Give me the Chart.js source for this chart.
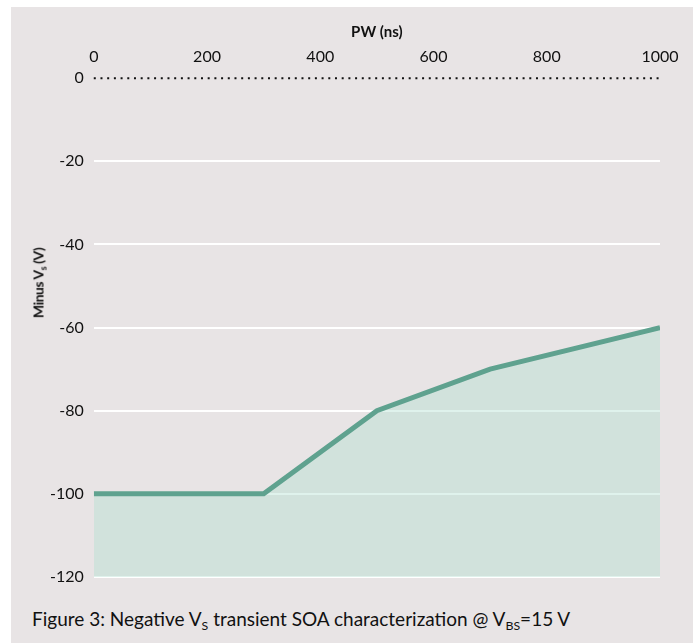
<!DOCTYPE html>
<html lang="en">
<head>
<meta charset="UTF-8">
<title>Negative VS transient SOA</title>
<script src="https://cdn.jsdelivr.net/npm/chart.js"></script>
<style>
    body {
        margin: 0;
        background: #ffffff;
        font-family: Lato, "Noto Sans", sans-serif;
    }
    #panel {
        position: absolute;
        left: 11px;
        top: 7px;
        width: 682px;
        height: 636px;
        background: #e8e4e5;
    }
    #chartBox {
        position: absolute;
        left: 0;
        top: 0;
        width: 682px;
        height: 590px;
    }
    #yTitle {
        position: absolute;
        left: 27px;
        top: 276px;
        transform: translate(-50%, -50%) rotate(-90deg);
        white-space: nowrap;
        font-weight: bold;
        font-size: 14px;
        letter-spacing: -0.5px;
        color: #111;
    }
    #caption {
        position: absolute;
        left: 21px;
        top: 600px;
        font-size: 19px;
        color: #111;
        white-space: nowrap;
    }
    sub { font-size: 0.65em; vertical-align: -0.3em; line-height: 0; }
</style>
</head>
<body>
<div id="panel">
    <div id="chartBox"><canvas id="soaChart"></canvas></div>
    <div id="yTitle">Minus V<sub>s</sub> (V)</div>
    <div id="caption">Figure 3: Negative V<sub>S</sub> transient SOA characterization @ V<sub>BS</sub>=15 V</div>
</div>

<script>
    // data
    const pulseWidth = [0, 300, 500, 700, 1000];      // ns
    const minusVs = [-100, -100, -80, -70, -60];      // V
    const zeroLineX = [0, 1000];
    const zeroLineY = [0, 0];
    const xTicks = [0, 200, 400, 600, 800, 1000];
    const yTicks = [0, -20, -40, -60, -80, -100, -120];

    const lineColor = '#5fa28f';
    const tickFont = { family: 'Lato, "Noto Sans", sans-serif', size: 16 };

    new Chart(document.getElementById('soaChart'), {
        type: 'line',
        data: {
            datasets: [{
                data: pulseWidth.map((x, i) => ({ x: x, y: minusVs[i] })),
                borderColor: lineColor,
                borderWidth: 5,
                backgroundColor: 'rgba(174, 222, 208, 0.4)',
                fill: 'start',
                pointRadius: 0,
                tension: 0
            }, {
                // dotted line along 0 V
                data: zeroLineX.map((x, i) => ({ x: x, y: zeroLineY[i] })),
                borderColor: '#111',
                borderWidth: 2,
                borderDash: [2, 4.7],
                borderCapStyle: 'butt',
                fill: false,
                pointRadius: 0,
                clip: false
            }]
        },
        options: {
            responsive: true,
            maintainAspectRatio: false,
            animation: false,
            layout: { padding: { left: 29, right: 33, top: 16, bottom: 20 } },
            plugins: {
                legend: { display: false },
                tooltip: { enabled: false }
            },
            scales: {
                x: {
                    type: 'linear',
                    position: 'top',
                    min: 0,
                    max: 1000,
                    afterBuildTicks: axis => { axis.ticks = xTicks.map(v => ({ value: v })); },
                    grid: { display: false },
                    border: { display: false },
                    ticks: { color: '#111', font: tickFont, padding: 4, callback: v => String(v) },
                    title: {
                        display: true,
                        text: 'PW (ns)',
                        color: '#111',
                        font: { family: tickFont.family, size: 15, weight: 'bold' },
                        padding: { top: 0, bottom: 2 }
                    }
                },
                y: {
                    min: -120,
                    max: 0,
                    afterBuildTicks: axis => { axis.ticks = yTicks.map(v => ({ value: v })); },
                    grid: {
                        color: ctx => (ctx.tick && ctx.tick.value === 0) ? 'rgba(0,0,0,0)' : '#ffffff',
                        lineWidth: 2,
                        drawTicks: false
                    },
                    border: { display: false },
                    ticks: { color: '#111', font: tickFont, padding: 10, callback: v => String(v) }
                }
            }
        }
    });
</script>
</body>
</html>
